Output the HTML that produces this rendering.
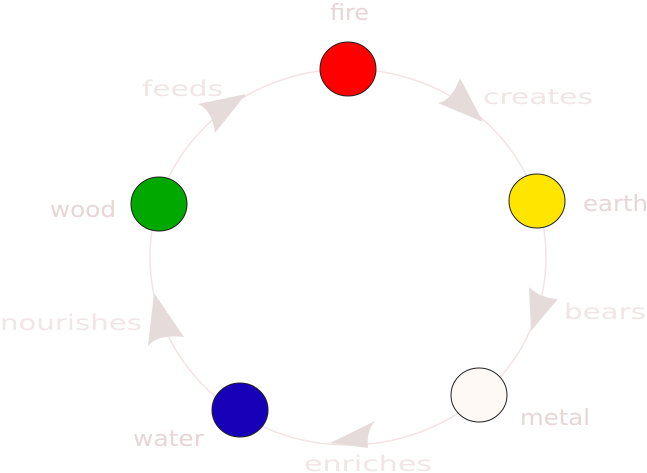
<!DOCTYPE html>
<html><head><style>html,body{margin:0;padding:0;background:#fff;}svg{display:block}</style></head>
<body>
<svg width="647" height="473" viewBox="0 0 647 473" xmlns="http://www.w3.org/2000/svg" font-family="DejaVu Sans, Liberation Sans, sans-serif">
<ellipse cx="348" cy="257" rx="198" ry="188" fill="none" stroke="#f3e3e3" stroke-width="1.5"/>
<g fill="#e6dbdb">
<path d="M483,122 L438,103 Q452,100 460,78 Z"/>
<path d="M531,331 L529,287 Q540,298 558,299 Z"/>
<path d="M330,443 L375,421 Q366,432 368,448 Z"/>
<path d="M154,293 L148,346 Q158,334 184,337 Z"/>
<path d="M246,94 L198,104 Q212,110 215,133 Z"/>
</g>
<g stroke="#222" stroke-width="1">
<ellipse cx="348" cy="69" rx="28" ry="27" fill="#ff0000"/>
<ellipse cx="537" cy="201" rx="28" ry="27" fill="#ffe500"/>
<ellipse cx="479" cy="395" rx="28" ry="27" fill="#fff9f6"/>
<ellipse cx="240" cy="410" rx="28" ry="27" fill="#1800b8"/>
<ellipse cx="159" cy="204" rx="28" ry="27" fill="#00a800"/>
</g>
<g font-size="22" fill="#e6d6d6" lengthAdjust="spacingAndGlyphs">
<text x="330" y="20" textLength="39" lengthAdjust="spacingAndGlyphs">fire</text>
<text x="583" y="211" textLength="65" lengthAdjust="spacingAndGlyphs">earth</text>
<text x="520" y="425" textLength="70" lengthAdjust="spacingAndGlyphs">metal</text>
<text x="133" y="446" textLength="71" lengthAdjust="spacingAndGlyphs">water</text>
<text x="50" y="217" textLength="66" lengthAdjust="spacingAndGlyphs">wood</text>
</g>
<g font-size="21" fill="#f0e6e6">
<text x="483" y="104" textLength="110" lengthAdjust="spacingAndGlyphs">creates</text>
<text x="564" y="319" textLength="82" lengthAdjust="spacingAndGlyphs">bears</text>
<text x="304" y="471" textLength="128" lengthAdjust="spacingAndGlyphs">enriches</text>
<text x="0" y="330" textLength="142" lengthAdjust="spacingAndGlyphs">nourishes</text>
<text x="142" y="96" textLength="81" lengthAdjust="spacingAndGlyphs">feeds</text>
</g>
</svg>
</body></html>
